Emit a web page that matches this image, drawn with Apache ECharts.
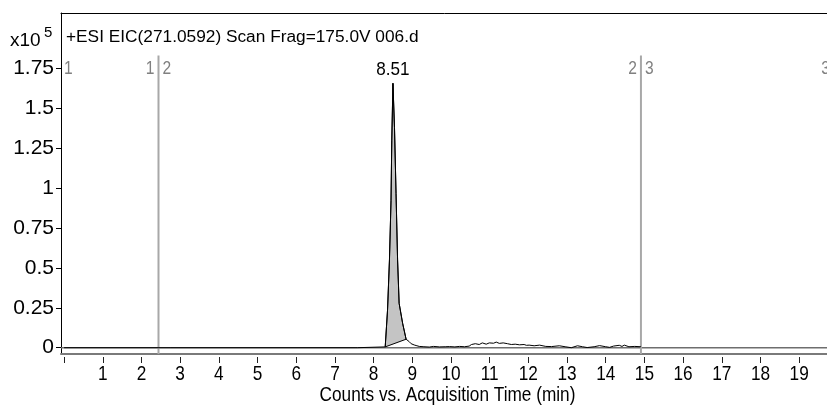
<!DOCTYPE html>
<html>
<head>
<meta charset="utf-8">
<script src="https://cdn.jsdelivr.net/npm/echarts@6/dist/echarts.min.js"></script>
<style>
html,body{margin:0;padding:0;background:#fff;}
#chart{width:827px;height:407px;}
</style>
</head>
<body>
<div id="chart"></div>
<script>
// ---- data (counts in units of 10^5) ----
const time = [0.00, 2.74, 2.76, 2.78, 7.52, 7.55, 7.58, 8.30, 8.36, 8.41, 8.45, 8.47, 8.50, 8.54, 8.58, 8.62, 8.66, 8.75, 8.84, 8.88, 8.92, 8.97, 9.05, 9.12, 9.18, 9.30, 9.44, 9.55, 9.70, 9.85, 9.96, 10.10, 10.22, 10.35, 10.47, 10.53, 10.63, 10.73, 10.81, 10.91, 10.99, 11.10, 11.17, 11.25, 11.35, 11.46, 11.56, 11.66, 11.77, 11.89, 11.95, 12.02, 12.15, 12.29, 12.45, 12.60, 12.80, 12.95, 13.11, 13.27, 13.40, 13.52, 13.70, 13.84, 14.00, 14.10, 14.20, 14.35, 14.42, 14.48, 14.60, 14.75, 14.91];
const counts = [0.000, 0.000, 0.012, 0.000, 0.000, 0.010, 0.000, 0.005, 0.236, 0.550, 0.920, 1.300, 1.656, 1.380, 0.967, 0.550, 0.278, 0.153, 0.053, 0.045, 0.038, 0.025, 0.017, 0.012, 0.008, 0.006, 0.004, 0.008, 0.005, 0.006, 0.007, 0.005, 0.008, 0.006, 0.010, 0.020, 0.025, 0.020, 0.030, 0.022, 0.030, 0.028, 0.035, 0.027, 0.030, 0.025, 0.020, 0.022, 0.018, 0.020, 0.015, 0.016, 0.012, 0.016, 0.008, 0.007, 0.012, 0.006, 0.000, 0.012, 0.006, 0.001, 0.006, 0.013, 0.006, 0.002, 0.010, 0.015, 0.008, 0.016, 0.006, 0.008, 0.006];
const peakStart = 8.30;
const peakEnd = 8.84;
const peakLabel = '8.51';
const segMarkers = [2.44, 14.91];
const segNumbers = ['1', '2', '3'];
const xTickValues = [0,1,2,3,4,5,6,7,8,9,10,11,12,13,14,15,16,17,18,19];
const xTickLabels = [1,2,3,4,5,6,7,8,9,10,11,12,13,14,15,16,17,18,19];
const yTickValues = [0, 0.25, 0.5, 0.75, 1, 1.25, 1.5, 1.75];
const titleText = '+ESI EIC(271.0592) Scan Frag=175.0V 006.d';
const xAxisName = 'Counts vs. Acquisition Time (min)';

// ---- styling ----
const FONT = "'Liberation Sans', Arial, sans-serif";
const NARROW_SCALE = 0.82;
const xMin = -0.08, xMax = 19.9, yMin = -0.0395, yMax = 2.0963;
const markerTopVal = 1.83, segLabelVal = 1.75;
const GRID = {left: 61, top: 13, width: 773, height: 341};

const mainData = time.map((t, i) => [t, counts[i]]);
const peakPts = mainData.filter(p => p[0] >= peakStart && p[0] <= peakEnd);
let apex = peakPts[0];
peakPts.forEach(p => { if (p[1] > apex[1]) apex = p; });

const chart = echarts.init(document.getElementById('chart'), null, {renderer: 'canvas'});
const baseX = {type: 'value', min: xMin, max: xMax, gridIndex: 0, splitLine: {show: false}};
function segText(x, y, txt, align) {
  return {type: 'text', x: x, y: y, scaleX: NARROW_SCALE,
    style: {text: txt, fill: '#808080', font: '19px ' + FONT, align: align, verticalAlign: 'middle'}};
}
chart.setOption({
  animation: false,
  backgroundColor: '#fff',
  grid: Object.assign({containLabel: false, outerBoundsMode: 'none'}, GRID),
  xAxis: [
    Object.assign({}, baseX, {
      position: 'bottom',
      axisLine: {show: true, onZero: false, lineStyle: {color: '#7a7a7a', width: 2}},
      axisTick: {show: false}, axisLabel: {show: false}
    }),
    Object.assign({}, baseX, {
      position: 'top',
      axisLine: {show: true, onZero: false, lineStyle: {color: '#000', width: 1}},
      axisTick: {show: false}, axisLabel: {show: false}
    }),
    Object.assign({}, baseX, {
      position: 'bottom', offset: 3,
      axisLine: {show: false, onZero: false},
      axisTick: {show: true, length: 6, lineStyle: {color: '#222', width: 1}, customValues: xTickValues},
      axisLabel: {show: false}
    })
  ],
  yAxis: [{
    type: 'value', min: yMin, max: yMax,
    splitLine: {show: false},
    axisLine: {show: true, onZero: false, lineStyle: {color: '#000', width: 1}},
    axisTick: {show: true, length: 5, lineStyle: {color: '#000'}, customValues: yTickValues},
    axisLabel: {show: true, margin: 7, color: '#000', fontFamily: FONT, fontSize: 21, customValues: yTickValues}
  }],
  graphic: [
    {type: 'text', left: 66, top: 29, style: {text: titleText, fill: '#000', font: '17.3px ' + FONT}},
    {type: 'text', left: 10, top: 31, style: {text: 'x10', fill: '#000', font: '19px ' + FONT}},
    {type: 'text', left: 44, top: 25, style: {text: '5', fill: '#000', font: '15px ' + FONT}},
    {type: 'text', x: GRID.left + GRID.width / 2, y: 395, scaleX: NARROW_SCALE,
     style: {text: xAxisName, fill: '#000', font: '21px ' + FONT, align: 'center', verticalAlign: 'middle'}}
  ],
  series: [
    {
      type: 'line', name: 'zero', silent: true, z: 2,
      data: [[xMin, 0], [xMax, 0]], showSymbol: false,
      lineStyle: {color: '#6e6e6e', width: 1.5}
    },
    {
      type: 'custom', name: 'xLabels', z: 3, silent: true, clip: false,
      data: xTickLabels.map(v => [v, 0]),
      renderItem: function (params, api) {
        const v = api.value(0);
        const c = api.coord([v, yMin]);
        return {type: 'text', x: c[0], y: c[1] + 20, scaleX: NARROW_SCALE,
          style: {text: String(v), fill: '#000', font: '21px ' + FONT, align: 'center', verticalAlign: 'middle'}};
      }
    },
    {
      type: 'custom', name: 'segments', z: 3, silent: true, clip: false,
      data: segMarkers.map((m, i) => [m, i]),
      renderItem: function (params, api) {
        const x = api.value(0), i = api.value(1);
        const top = api.coord([x, markerTopVal]);
        const bot = api.coord([x, yMin]);
        const ly = api.coord([x, segLabelVal])[1];
        const children = [
          {type: 'line', shape: {x1: top[0], y1: top[1], x2: bot[0], y2: bot[1]},
           style: {stroke: '#a8a8a8', lineWidth: 2}},
          segText(top[0] - 4, ly, segNumbers[i], 'right'),
          segText(top[0] + 4, ly, segNumbers[i + 1], 'left')
        ];
        if (i === 0) {
          const l = api.coord([xMin, segLabelVal]);
          children.push(segText(l[0] + 3, l[1], segNumbers[0], 'left'));
        }
        if (i === segMarkers.length - 1) {
          const r = api.coord([xMax, segLabelVal]);
          children.push(segText(r[0] - 4, r[1], segNumbers[segNumbers.length - 1], 'right'));
        }
        return {type: 'group', children: children};
      }
    },
    {
      type: 'custom', name: 'peakArea', z: 4, silent: true, clip: false,
      data: [[apex[0], apex[1]]],
      renderItem: function (params, api) {
        const pts = peakPts.map(p => api.coord(p));
        const a = api.coord([api.value(0), api.value(1)]);
        return {type: 'group', children: [
          {type: 'polygon', shape: {points: pts},
           style: {fill: '#c4c4c4', stroke: '#000', lineWidth: 1}},
          {type: 'text', x: a[0], y: a[1] - 14, scaleX: 0.9,
           style: {text: peakLabel, fill: '#000', font: '19px ' + FONT, align: 'center', verticalAlign: 'middle'}}
        ]};
      }
    },
    {
      type: 'line', name: 'EIC', z: 5,
      data: mainData, showSymbol: false, symbol: 'none',
      lineStyle: {color: '#000', width: 1}
    }
  ]
});
</script>
</body>
</html>
